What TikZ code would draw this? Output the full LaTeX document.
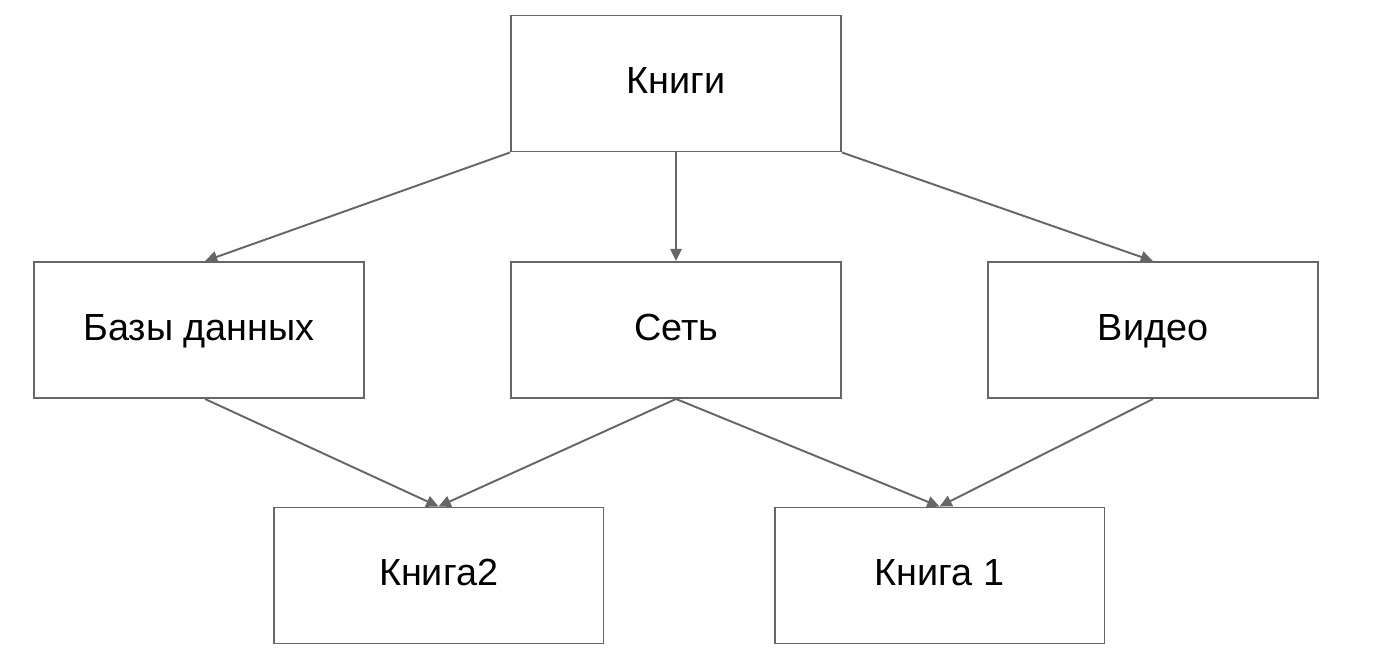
\documentclass[tikz,border=0pt]{standalone}
\usepackage{fontspec}
\setmainfont{Liberation Sans}
\usetikzlibrary{arrows.meta}

\definecolor{boxgray}{HTML}{666666}

\begin{document}
\begin{tikzpicture}[x=0.02cm,y=-0.02cm,
  box/.style={draw=boxgray,line width=1.1pt,minimum width=6.6cm,minimum height=2.72cm,
    text height=1.15em,text depth=0em,font=\fontsize{21.5}{25}\selectfont},
  link/.style={draw=boxgray,line width=1.1pt,-{Triangle[length=7pt,width=6.5pt]}}]
  \useasboundingbox (0,0) rectangle (1378,664);
  \node[box] (kn) at (676,83.5) {Книги};
  \node[box] (bd) at (199,330) {Базы данных};
  \node[box] (set) at (676,330) {Сеть};
  \node[box] (vid) at (1153,330) {Видео};
  \node[box] (k2) at (438.5,575.5) {Книга2};
  \node[box] (k1) at (939.5,575.5) {Книга 1};
  \draw[link] (kn.south west) -- ([xshift=0.12cm]bd.north);
  \draw[link] (kn.south) -- (set.north);
  \draw[link] (kn.south east) -- (vid.north);
  \draw[link] ([xshift=0.12cm]bd.south) -- (k2.north);
  \draw[link] (set.south) -- (k2.north);
  \draw[link] (set.south) -- (k1.north);
  \draw[link] (vid.south) -- (k1.north);
\end{tikzpicture}
\end{document}
